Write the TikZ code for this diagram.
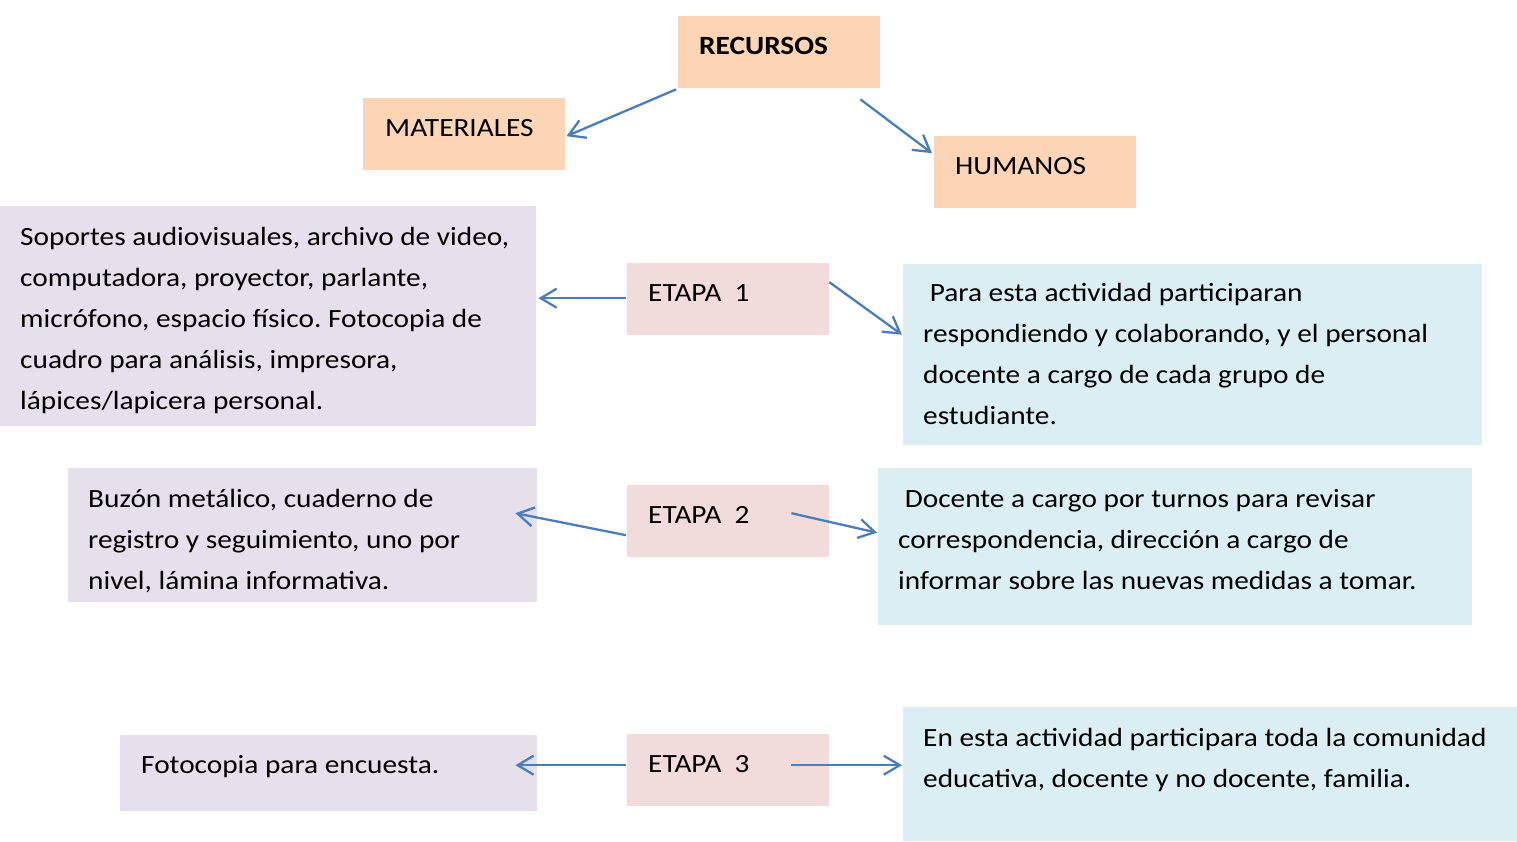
\documentclass[tikz,border=0pt]{standalone}
\usepackage{fontspec}
\setmainfont{Carlito}[FakeStretch=1.115]
\usetikzlibrary{arrows.meta,calc}
\definecolor{peach}{HTML}{FBD5B5}
\definecolor{pinkc}{HTML}{F2DCDB}
\definecolor{lav}{HTML}{E5E0EC}
\definecolor{lblue}{HTML}{DBEEF3}
\definecolor{arrc}{HTML}{4A7EBB}
\newcommand{\sT}{\rule{0pt}{22pt}}
\frenchspacing
\begin{document}
\begin{tikzpicture}[x=1pt,y=-1pt,
  box/.style={draw=none,anchor=north west,inner sep=0pt,minimum width=#1},
  txt/.style={anchor=north west,inner sep=0pt,align=left,font=\fontsize{26.3}{41}\selectfont\frenchspacing},
  arr/.style={draw=arrc,line width=2.3pt,-{Straight Barb[length=16pt,width=19pt]}}]
\useasboundingbox (0,0) rectangle (1517,842);
% boxes
\node[box=202pt,minimum height=72pt,fill=peach] (rec) at (678,16) {};
\node[box=202pt,minimum height=72pt,fill=peach] (mat) at (363,98) {};
\node[box=202pt,minimum height=72pt,fill=peach] (hum) at (934,136) {};
\node[box=536pt,minimum height=220pt,fill=lav] (m1) at (0,206) {};
\node[box=202pt,minimum height=72pt,fill=pinkc] (e1) at (627,263) {};
\node[box=579pt,minimum height=181pt,fill=lblue] (h1) at (903,264) {};
\node[box=469pt,minimum height=134pt,fill=lav] (m2) at (68,468) {};
\node[box=202pt,minimum height=72pt,fill=pinkc] (e2) at (627,485) {};
\node[box=594pt,minimum height=157pt,fill=lblue] (h2) at (878,468) {};
\node[box=417pt,minimum height=76pt,fill=lav] (m3) at (120,735) {};
\node[box=202pt,minimum height=72pt,fill=pinkc] (e3) at (627,734) {};
\node[box=614pt,minimum height=134pt,fill=lblue] (h3) at (903,707) {};
% texts
\node[txt] (trec) at (699,32) {\sT\textbf{RECURSOS}};
\node[txt] (tmat) at (385,114) {\sT MATERIALES};
\node[txt] (thum) at (955,152) {\sT HUMANOS};
\node[txt] (tm1) at (20,223) {\sT Soportes audiovisuales, archivo de video,\\computadora, proyector, parlante,\\micrófono, espacio físico. Fotocopia de\\cuadro para análisis, impresora,\\lápices/lapicera personal.};
\node[txt] (te1) at (648,279) {\sT ETAPA\ \ 1};
\node[txt] (th1) at (923,279) {\sT\ Para esta actividad participaran\\respondiendo y colaborando, y el personal\\docente a cargo de cada grupo de\\estudiante.};
\node[txt] (tm2) at (88,485) {\sT Buzón metálico, cuaderno de\\registro y seguimiento, uno por\\nivel, lámina informativa.};
\node[txt] (te2) at (648,501) {\sT ETAPA\ \ 2};
\node[txt] (th2) at (898,485) {\sT\ Docente a cargo por turnos para revisar\\correspondencia, dirección a cargo de\\informar sobre las nuevas medidas a tomar.};
\node[txt] (tm3) at (141,751) {\sT Fotocopia para encuesta.};
\node[txt] (te3) at (648,750) {\sT ETAPA\ \ 3};
\node[txt] (th3) at (923,724) {\sT En esta actividad participara toda la comunidad\\educativa, docente y no docente, familia.};
% connectors
\draw[arr] ([xshift=-2pt,yshift=-1pt]rec.south west) -- ([xshift=1pt,yshift=-2pt]mat.east);
\draw[arr] ([xshift=-20pt,yshift=-11pt]rec.south east) -- ([xshift=-2pt,yshift=19pt]hum.west);
\draw[arr] ([xshift=-1pt,yshift=1pt]e1.west) -- ([xshift=2pt,yshift=1pt]e1.west -| m1.east);
\draw[arr] ([yshift=17pt]e1.east) -- ([xshift=-1pt,yshift=20pt]h1.west);
\draw[arr] ([xshift=-1pt,yshift=-14pt]e2.west) -- ([xshift=-22pt,yshift=22pt]m2.east);
\draw[arr] ([xshift=-38pt,yshift=8pt]e2.east) -- ([xshift=-1pt,yshift=14pt]h2.west);
\draw[arr] ([xshift=-1pt,yshift=5pt]e3.west) -- ([xshift=-22pt,yshift=8pt]m3.east);
\draw[arr] ([xshift=-38pt,yshift=5pt]e3.east) -- ([xshift=-1pt,yshift=9pt]h3.west);
\end{tikzpicture}
\end{document}
